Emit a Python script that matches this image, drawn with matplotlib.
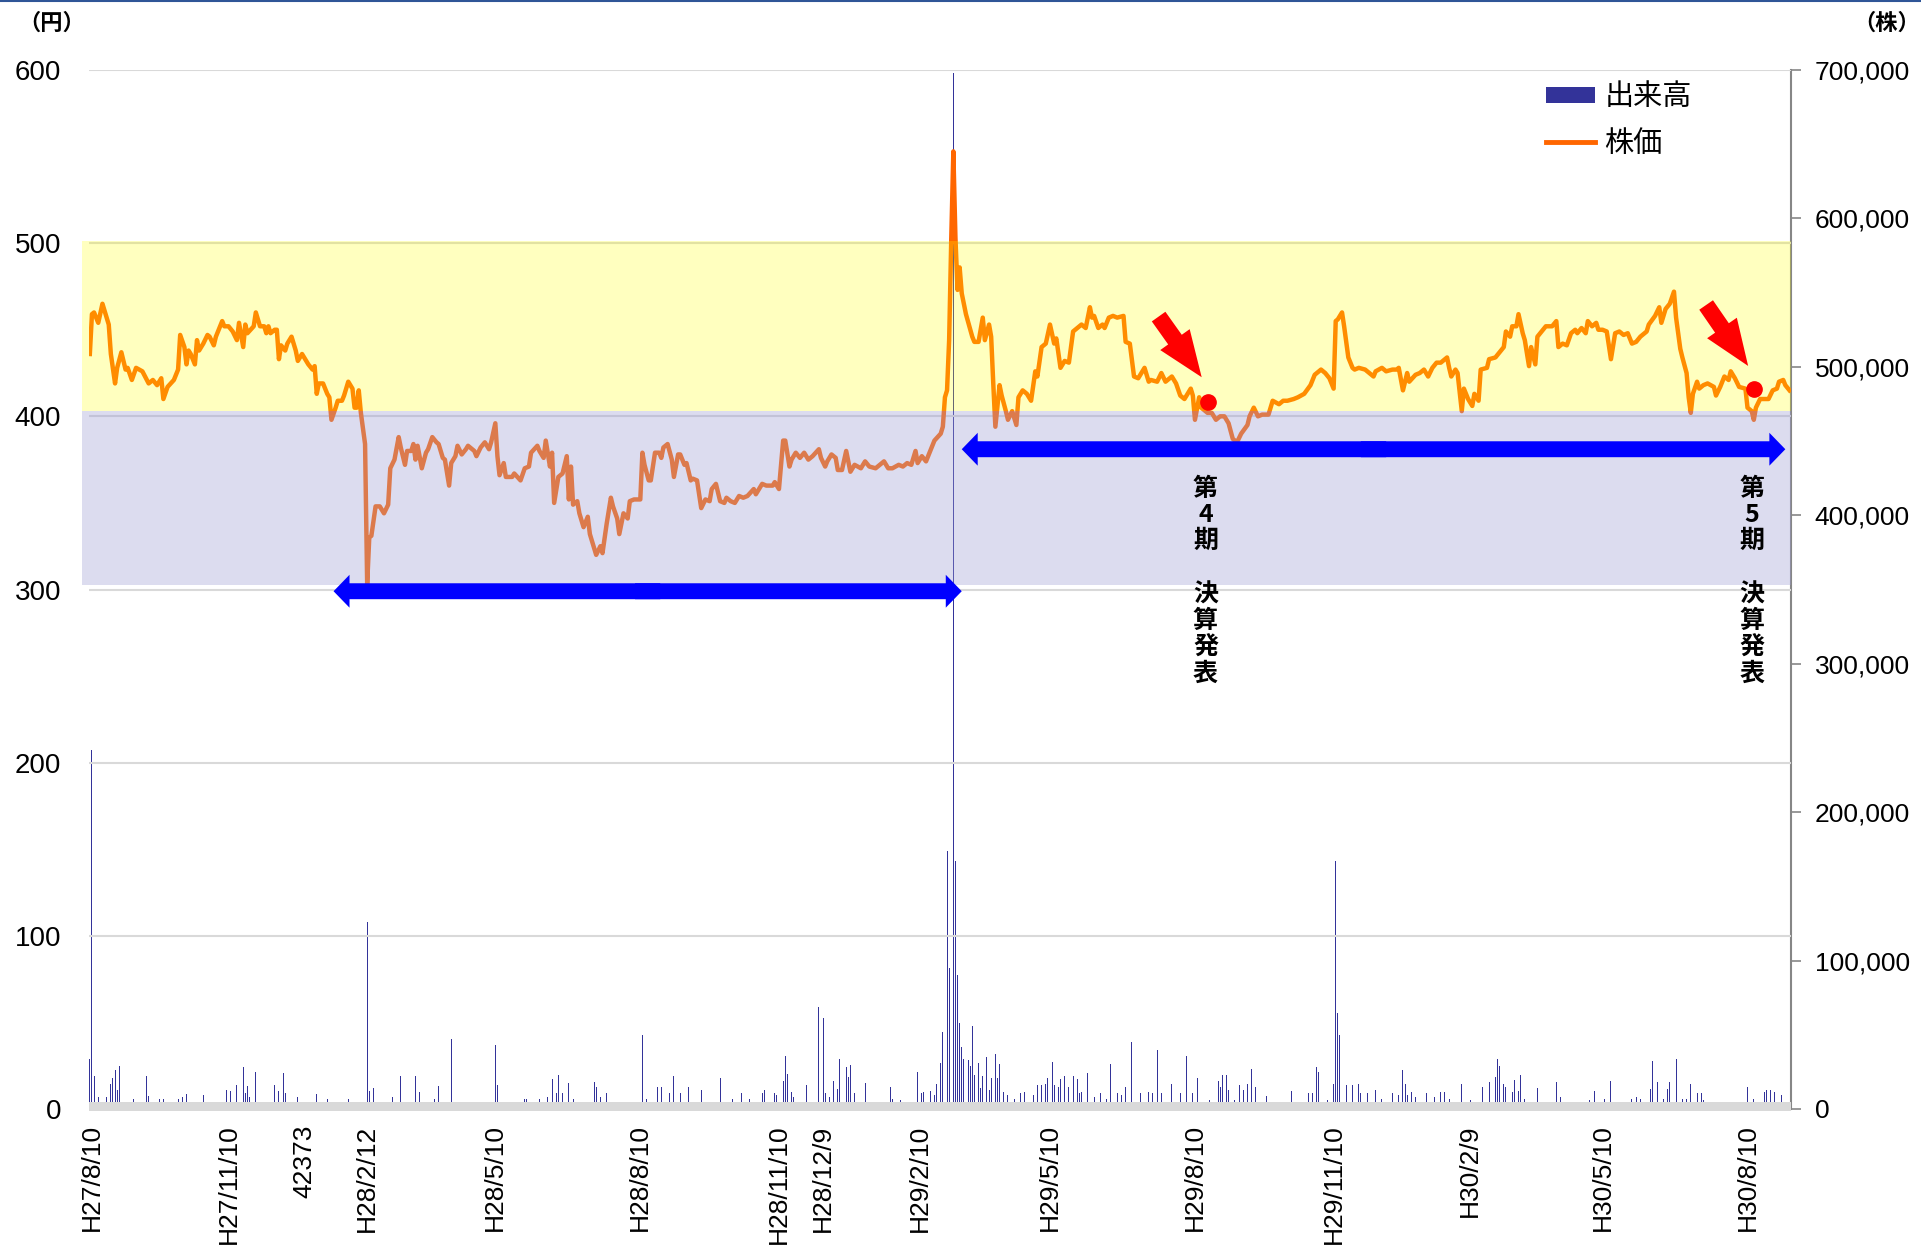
import matplotlib
matplotlib.use('Agg')
import matplotlib.pyplot as plt
from matplotlib.patches import Patch
from matplotlib.lines import Line2D
from matplotlib.ticker import FuncFormatter

# Stock price (円) and trading volume (株), H27/8/10 - H30/8
# x values are trading-day offsets from the first session on the chart

plt.rcParams['font.family'] = ['Liberation Sans', 'Noto Sans CJK JP', 'DejaVu Sans']
JP = ['Noto Sans CJK JP', 'DejaVu Sans']

price_day = [
    0, 1, 2, 4, 6, 9, 10, 12, 13, 15, 17, 18, 20, 22, 25, 28, 30, 32, 34, 35,
    37, 40, 42, 43, 45, 46, 47, 48, 50, 51, 52, 54, 56, 57, 59, 60, 63, 64, 66, 68,
    70, 71, 73, 74, 75, 78, 79, 81, 83, 84, 85, 86, 88, 89, 90, 91, 93, 94, 96, 98,
    99, 101, 102, 104, 106, 107, 108, 109, 111, 113, 114, 115, 117, 118, 120, 121, 123, 125, 126, 127,
    128, 129, 131, 132, 133, 134, 136, 138, 140, 142, 143, 145, 147, 148, 150, 151, 153, 154, 155, 156,
    158, 160, 161, 163, 165, 166, 168, 169, 171, 172, 174, 175, 177, 179, 180, 183, 184, 186, 188, 190,
    191, 193, 194, 195, 197, 198, 201, 202, 205, 207, 209, 210, 213, 214, 216, 217, 219, 220, 221, 223,
    225, 227, 228, 229, 230, 232, 233, 235, 237, 238, 240, 241, 243, 244, 246, 248, 249, 251, 252, 254,
    256, 257, 259, 262, 263, 264, 266, 267, 269, 271, 272, 273, 275, 277, 278, 280, 281, 283, 284, 286,
    287, 289, 290, 291, 293, 295, 296, 298, 300, 302, 303, 305, 307, 309, 311, 313, 316, 317, 320, 322,
    325, 326, 328, 330, 331, 333, 334, 336, 338, 340, 342, 344, 347, 348, 350, 351, 353, 355, 356, 358,
    360, 362, 364, 367, 369, 371, 374, 376, 378, 380, 382, 385, 387, 389, 391, 393, 394, 396, 398, 400,
    402, 405, 406, 407, 408, 409, 410, 411, 412, 413, 414, 415, 417, 420, 421, 423, 425, 426, 428, 429,
    430, 431, 433, 434, 436, 437, 439, 441, 442, 444, 446, 448, 450, 451, 453, 455, 457, 459, 460, 462,
    464, 466, 468, 470, 472, 474, 476, 477, 478, 480, 482, 483, 485, 487, 489, 492, 493, 495, 497, 499,
    502, 504, 505, 508, 510, 512, 515, 517, 519, 521, 524, 525, 526, 528, 529, 532, 534, 536, 538, 540,
    542, 544, 546, 548, 551, 552, 554, 556, 558, 561, 563, 566, 568, 570, 573, 575, 578, 581, 583, 586,
    588, 590, 592, 593, 594, 596, 597, 599, 601, 602, 604, 607, 609, 611, 612, 615, 617, 620, 622, 623,
    625, 627, 628, 631, 633, 635, 637, 639, 641, 643, 646, 647, 648, 650, 651, 653, 654, 656, 658, 659,
    661, 662, 665, 666, 669, 671, 673, 674, 676, 677, 679, 680, 682, 683, 685, 686, 688, 689, 691, 693,
    696, 698, 699, 701, 703, 705, 707, 708, 710, 712, 713, 715, 717, 718, 720, 722, 724, 726, 728, 730,
    732, 734, 736, 738, 741, 742, 745, 747, 748, 750, 752, 754, 755, 757, 758, 760, 761, 762, 763, 765,
    766, 768, 770, 773, 774, 776, 778, 780, 781, 783, 785, 788, 789, 791, 792, 793, 795, 797, 799, 801,
    803, 804, 806, 807, 809,
]
price_yen = [
    436, 459, 460, 454, 465, 453, 436, 419, 428, 437, 427, 428, 421, 428, 426, 419, 421, 418, 422, 410,
    417, 421, 427, 447, 440, 430, 438, 436, 430, 444, 438, 442, 447, 446, 441, 446, 455, 452, 452, 449,
    444, 454, 440, 453, 448, 452, 460, 452, 452, 448, 452, 448, 450, 450, 433, 441, 438, 442, 446, 438,
    432, 436, 434, 430, 427, 429, 413, 419, 419, 413, 411, 398, 405, 409, 409, 412, 420, 416, 405, 405,
    415, 402, 384, 303, 330, 331, 348, 348, 344, 349, 370, 375, 388, 382, 372, 380, 380, 384, 375, 383,
    370, 379, 381, 388, 385, 384, 376, 375, 360, 373, 377, 383, 378, 381, 383, 380, 377, 382, 385, 381,
    385, 396, 377, 366, 373, 365, 365, 367, 363, 370, 371, 379, 383, 380, 376, 386, 371, 379, 350, 365,
    367, 377, 352, 371, 349, 351, 344, 336, 342, 332, 324, 320, 325, 321, 338, 353, 348, 341, 332, 344,
    341, 351, 352, 352, 379, 372, 363, 363, 379, 379, 376, 382, 384, 375, 365, 378, 378, 372, 373, 363,
    364, 363, 355, 347, 352, 351, 358, 361, 351, 350, 353, 351, 350, 354, 353, 354, 358, 355, 361, 360,
    360, 362, 358, 386, 386, 371, 375, 379, 376, 379, 375, 377, 381, 376, 371, 374, 378, 376, 369, 369,
    380, 368, 372, 370, 374, 371, 370, 372, 374, 370, 370, 372, 371, 373, 372, 380, 373, 377, 374, 380,
    386, 390, 394, 411, 415, 444, 502, 553, 503, 473, 486, 471, 459, 446, 443, 443, 457, 444, 453, 446,
    419, 394, 418, 412, 403, 398, 403, 395, 411, 415, 413, 409, 426, 423, 440, 442, 453, 442, 445, 428,
    432, 431, 449, 451, 453, 451, 463, 457, 458, 451, 453, 451, 457, 458, 457, 458, 443, 442, 423, 422,
    428, 420, 421, 420, 425, 420, 423, 419, 412, 410, 416, 412, 398, 411, 405, 402, 402, 398, 400, 400,
    396, 387, 385, 390, 395, 400, 405, 400, 401, 401, 409, 407, 409, 409, 410, 411, 413, 418, 424, 427,
    425, 422, 416, 455, 456, 460, 452, 434, 428, 427, 428, 427, 425, 423, 426, 428, 426, 427, 427, 428,
    415, 425, 420, 424, 425, 427, 423, 428, 431, 431, 434, 428, 423, 427, 425, 403, 416, 410, 406, 413,
    409, 427, 428, 433, 434, 437, 440, 449, 446, 452, 452, 459, 448, 444, 429, 440, 430, 446, 449, 452,
    452, 455, 440, 442, 441, 448, 450, 448, 451, 448, 455, 452, 454, 450, 450, 449, 433, 448, 449, 447,
    448, 442, 443, 446, 449, 453, 458, 463, 454, 462, 465, 472, 457, 439, 434, 425, 411, 402, 413, 420,
    416, 418, 419, 417, 412, 417, 423, 421, 426, 422, 417, 416, 405, 403, 398, 405, 410, 410, 410, 415,
    416, 420, 421, 418, 415,
]

volume_day = [
    0, 1, 2, 4, 8, 10, 11, 12, 13, 14, 21, 27, 28, 33, 35, 42, 44, 46, 54, 65,
    67, 70, 71, 73, 74, 75, 76, 79, 81, 88, 90, 92, 93, 99, 108, 113, 123, 132, 133, 135,
    144, 148, 150, 155, 157, 164, 166, 172, 180, 193, 194, 207, 208, 214, 218, 220, 222, 223, 225, 228,
    230, 240, 241, 243, 246, 263, 265, 269, 270, 272, 276, 278, 281, 285, 289, 291, 300, 306, 310, 314,
    320, 321, 326, 327, 330, 331, 332, 334, 335, 341, 347, 349, 350, 352, 354, 356, 357, 358, 360, 361,
    362, 364, 369, 381, 382, 386, 394, 396, 397, 400, 402, 403, 405, 406, 408, 409, 411, 412, 413, 414,
    415, 416, 418, 419, 420, 421, 423, 424, 425, 427, 428, 429, 431, 432, 433, 435, 437, 440, 443, 445,
    447, 449, 451, 453, 455, 456, 457, 458, 459, 461, 462, 464, 466, 468, 470, 471, 472, 475, 477, 478,
    481, 484, 486, 487, 489, 491, 493, 496, 500, 504, 506, 508, 510, 515, 519, 522, 525, 527, 533, 537,
    538, 539, 541, 542, 545, 547, 549, 551, 553, 555, 560, 566, 572, 576, 580, 582, 584, 585, 589, 592,
    593, 594, 595, 596, 598, 601, 604, 605, 608, 612, 615, 620, 623, 625, 626, 627, 629, 631, 636, 640,
    643, 645, 647, 653, 657, 663, 665, 666, 669, 670, 671, 673, 674, 677, 678, 680, 681, 683, 685, 689,
    698, 700, 714, 716, 721, 724, 734, 736, 738, 743, 744, 746, 749, 751, 752, 754, 755, 758, 760, 762,
    764, 765, 767, 768, 789, 792, 797, 798, 800, 802, 805,
]
volume_shares = [
    34000, 242000, 22000, 8000, 8000, 17000, 21000, 26000, 13000, 29000, 7000, 22000, 9000, 7000, 6500, 7000, 8000, 10000, 9400, 13000,
    12000, 16000, 8000, 28000, 10600, 15500, 8000, 25000, 7000, 16000, 12000, 24500, 10600, 8000, 10000, 6500, 6700, 126000, 12400, 14000,
    8300, 22000, 24500, 22000, 11700, 6500, 15700, 47000, 14600, 43000, 16000, 7000, 6500, 6500, 8000, 20000, 11000, 23000, 11000, 17800,
    7000, 18400, 15000, 8300, 11000, 50000, 7000, 8300, 15000, 15000, 10600, 22000, 11000, 14600, 8300, 13000, 20700, 7000, 11000, 7000,
    11000, 12800, 10600, 9400, 19000, 35700, 23600, 11700, 8300, 16000, 69000, 61000, 11000, 8300, 19000, 13500, 33500, 13500, 28000, 21300,
    29700, 11000, 17800, 15000, 6500, 6000, 25000, 11000, 11700, 12400, 9400, 17000, 30800, 52000, 174000, 95000, 698000, 167000, 90000, 58000,
    42000, 34000, 33000, 29000, 56000, 23000, 31000, 14000, 22000, 35000, 13000, 21000, 37000, 21000, 30000, 11700, 9400, 7000, 10600, 11700,
    8800, 9400, 16000, 16000, 17000, 21000, 84000, 32000, 16000, 15000, 20000, 22000, 15000, 22000, 20000, 10600, 11700, 24000, 10600, 8300,
    10600, 7000, 30000, 10600, 11000, 9400, 15000, 45000, 10600, 11700, 11000, 40000, 10600, 17000, 10600, 36000, 10600, 21000, 6000, 19000,
    15000, 23000, 23000, 12800, 6000, 16000, 12800, 16800, 27000, 14500, 8800, 6000, 12400, 7000, 10600, 11000, 28500, 24700, 6000, 17000,
    167000, 65000, 50000, 48000, 16000, 16000, 17000, 10600, 11000, 12800, 7000, 10600, 9400, 26000, 17000, 9400, 11700, 8300, 10600, 8300,
    11700, 11700, 7000, 17000, 6000, 15000, 11700, 18400, 21800, 34000, 29000, 17000, 14600, 11700, 19500, 12400, 23000, 7000, 6000, 14000,
    18400, 8300, 6000, 12400, 7000, 19000, 7000, 8300, 6500, 13300, 32600, 18400, 7000, 13300, 18400, 30000, 34000, 7000, 7000, 16800,
    10600, 10600, 11000, 6000, 15000, 7000, 11700, 12800, 12800, 11700, 9400,
]

tick_day = [1, 66, 102, 132, 193, 262, 328, 349, 395, 457, 526, 592, 657, 720, 789]
tick_label = ['H27/8/10', 'H27/11/10', '42373', 'H28/2/12', 'H28/5/10', 'H28/8/10',
              'H28/11/10', 'H28/12/9', 'H29/2/10', 'H29/5/10', 'H29/8/10', 'H29/11/10',
              'H30/2/9', 'H30/5/10', 'H30/8/10']

# annotation data: price ranges, the two periods, the two results announcements
band_upper = (403, 501.5)
band_lower = (302.6, 403)
period_arrows = [(116, 415, 299), (415, 807, 381)]
result_day = [532, 792]
result_yen = [408, 416]
result_period = ['4', '5']
pointer_from = [(508.7, 457.6), (769.3, 464.3)]
pointer_to = [(529.2, 422.6), (789.3, 429.1)]

fig = plt.figure(figsize=(19.21, 12.5), dpi=100)
ax = fig.add_axes([89 / 1921, 1 - 1109 / 1250, 1702 / 1921, 1039 / 1250])
ax2 = ax.twinx()
ax.set_zorder(ax2.get_zorder() + 1)
ax.patch.set_visible(False)

# volume bars on the right axis
ax2.bar(volume_day, volume_shares, width=0.45, color='#333399', linewidth=0)
ax2.set_ylim(0, 700000)
ax2.set_yticks(range(0, 700001, 100000))
ax2.yaxis.set_major_formatter(FuncFormatter(lambda v, p: f'{int(v):,}'))
ax2.tick_params(axis='y', length=7, width=1.2, color='#868686', pad=10, labelsize=19)
for side in ['top', 'left', 'bottom']:
    ax2.spines[side].set_visible(False)
ax2.spines['right'].set_color('#868686')
ax2.spines['right'].set_linewidth(1.5)

# price line, price bands laid over it
ax.plot(price_day, price_yen, color='#FF6600', lw=3.2, zorder=2, solid_joinstyle='round')
ax.axhspan(*band_upper, xmin=-0.004, xmax=1, color='#FFFF00', alpha=0.25, lw=0, zorder=3, clip_on=False)
ax.axhspan(*band_lower, xmin=-0.004, xmax=1, color=(158/255, 158/255, 213/255), alpha=0.36, lw=0,
           zorder=3, clip_on=False)
ax.axhspan(-1, 4.3, color='#D9D9D9', lw=0, zorder=1.5, clip_on=False)

ax.set_xlim(-0.4, 809.7)
ax.set_ylim(0, 600)
ax.set_yticks(range(0, 601, 100))
ax.grid(axis='y', color='#D9D9D9', lw=1.5)
ax.set_axisbelow(True)
ax.tick_params(axis='y', length=0, pad=20, labelsize=20)
ax.set_xticks(tick_day, tick_label, rotation=90)
ax.tick_params(axis='x', length=0, pad=11, labelsize=19)
for side in ax.spines:
    ax.spines[side].set_visible(False)

# blue double arrows for the two periods (two halves overlapping in the middle)
for x0, x1, y in period_arrows:
    mid = (x0 + x1) / 2
    for end in (x0, x1):
        start = mid - 6 if end > mid else mid + 6
        ax.arrow(start, y, end - start, 0, width=9.2, head_width=19, head_length=7.6,
                 length_includes_head=True, color='#0000FF', lw=0, zorder=5)

# red pointers, dots and vertical labels for the results announcements
for start, tip in zip(pointer_from, pointer_to):
    ax.annotate('', xy=tip, xytext=start, zorder=6,
                arrowprops=dict(arrowstyle='simple,head_length=0.83,head_width=0.65,tail_width=0.3',
                                mutation_scale=40, color='#FF0000', lw=0, shrinkA=0, shrinkB=0))
ax.plot(result_day, result_yen, 'o', color='#FF0000', ms=11, zorder=6)
for d, n in zip(result_day, result_period):
    ax.text(d - 1, 343, f'第\n{n}\n期', ha='center', va='center', ma='center', fontsize=18,
            fontweight='bold', family=JP, linespacing=1.12, zorder=7)
    ax.text(d - 1, 274, '決\n算\n発\n表', ha='center', va='center', ma='center', fontsize=18,
            fontweight='bold', family=JP, linespacing=1.12, zorder=7)

# legend
handles = [Patch(facecolor='#333399', label='出来高'),
           Line2D([], [], color='#FF6600', lw=3.5, label='株価')]
ax.legend(handles=handles, loc='upper left', bbox_to_anchor=(0.856, 0.988), frameon=False,
          prop={'family': JP, 'size': 21}, handlelength=1.7, handleheight=0.5,
          handletextpad=0.3, labelspacing=0.55, borderaxespad=0, borderpad=0)

# unit labels and the thin top rule
fig.text(0.027, 0.9816, '（円）', ha='center', va='center', fontsize=16, fontweight='bold', family=JP)
fig.text(0.9995, 0.9816, '（株）', ha='right', va='center', fontsize=16, fontweight='bold', family=JP)
fig.add_artist(Line2D([0, 1], [0.9992, 0.9992], transform=fig.transFigure, color='#2F5597', lw=1.5))

fig.savefig('out.png', dpi=100)
